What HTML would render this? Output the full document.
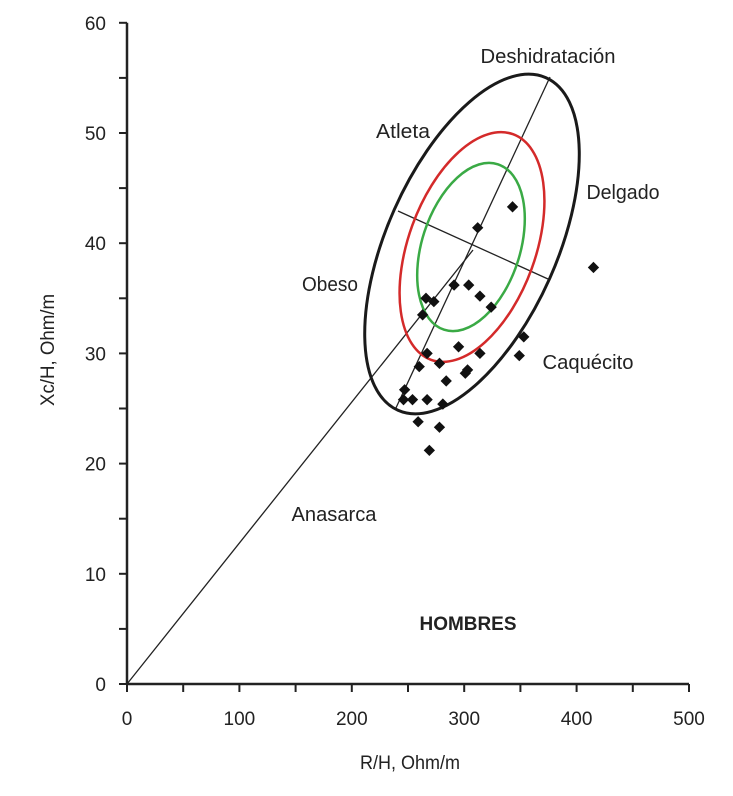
<!DOCTYPE html>
<html><head><meta charset="utf-8"><style>
body{margin:0;background:#fff}
svg text{font-family:"Liberation Sans",sans-serif;fill:#222}
</style></head><body>
<svg id="c" width="733" height="791"></svg>
<script>
const xTicks=[0,100,200,300,400,500];
const yTicks=[0,10,20,30,40,50,60];
const rVals=[343,312,415,291,304,314,324,266,273,263,353,349,295,314,267,278,260,303,301,284,247,246,254,267,281,259,278,269];
const xcVals=[43.3,41.4,37.8,36.2,36.2,35.2,34.2,35.0,34.7,33.5,31.5,29.8,30.6,30.0,30.0,29.1,28.8,28.5,28.2,27.5,26.7,25.8,25.8,25.8,25.4,23.8,23.3,21.2];
const NS="http://www.w3.org/2000/svg";
const svg=document.getElementById('c');
const X=v=>127+v*1.124;
const Y=v=>684-v*11.02;
function mk(t,a,txt){const e=document.createElementNS(NS,t);for(const k in a)e.setAttribute(k,a[k]);if(txt!==undefined)e.textContent=txt;svg.appendChild(e);return e;}
let e;
e=mk('line',{x1:X(0),y1:Y(0),x2:X(500),y2:Y(0),stroke:'#222','stroke-width':2.5});


e=mk('line',{x1:X(0),y1:Y(0),x2:X(0),y2:Y(60),stroke:'#222','stroke-width':2.5});


for(let v=0;v<=500;v+=50){e=mk('line',{x1:X(v),y1:Y(0),x2:X(v),y2:Y(0)+8,stroke:'#222','stroke-width':2});

}
for(let v=0;v<=60;v+=5){e=mk('line',{x1:X(0)-8,y1:Y(v),x2:X(0),y2:Y(v),stroke:'#222','stroke-width':2});

}
xTicks.forEach(v=>{e=mk('text',{x:X(v),y:725,'text-anchor':'middle','font-size':19},v);

});
yTicks.forEach(v=>{e=mk('text',{x:106,y:Y(v)+7,'text-anchor':'end','font-size':19},v);

});
// reference lines
e=mk('line',{x1:X(0),y1:Y(0),x2:473,y2:250,stroke:'#222','stroke-width':1.3});


e=mk('line',{x1:395,y1:410,x2:550,y2:77,stroke:'#222','stroke-width':1.3});


e=mk('line',{x1:398,y1:211,x2:548,y2:279,stroke:'#222','stroke-width':1.3});


// ellipses
const ells=[['#1a1a1a',472,244,85,182,24,'tolerance-ellipse-95'],['#d42a2a',472,247,63.5,120,20,'tolerance-ellipse-75'],['#3aaa45',471,247,49,87,18,'tolerance-ellipse-50']];
ells.forEach(p=>{e=mk('ellipse',{cx:p[1],cy:p[2],rx:p[3],ry:p[4],transform:`rotate(${p[5]} ${p[1]} ${p[2]})`,fill:'none',stroke:p[0],'stroke-width':p[0]=='#1a1a1a'?3:2.5});

});
// points
rVals.forEach((r,i)=>{const cx=X(r),cy=Y(xcVals[i]);
e=mk('rect',{x:cx-4,y:cy-4,width:8,height:8,fill:'#111',transform:`rotate(45 ${cx} ${cy})`});

});
const labels=[['Deshidratación',548,63,135,'region-label-deshidratacion'],['Atleta',403,138,54,'region-label-atleta'],['Delgado',623,199,73,'region-label-delgado'],['Obeso',330,291,56,'region-label-obeso'],['Caquécito',588,369,91,'region-label-caquecito'],['Anasarca',334,521,85,'region-label-anasarca']];
labels.forEach(l=>{e=mk('text',{x:l[1],y:l[2],'text-anchor':'middle','font-size':20,textLength:l[3],lengthAdjust:'spacingAndGlyphs'},l[0]);

});
e=mk('text',{x:468,y:630,'text-anchor':'middle','font-size':19,'font-weight':'bold',textLength:97,lengthAdjust:'spacingAndGlyphs'},'HOMBRES');


e=mk('text',{x:410,y:769,'text-anchor':'middle','font-size':19,textLength:100,lengthAdjust:'spacingAndGlyphs'},'R/H, Ohm/m');


e=mk('text',{x:54,y:350,'text-anchor':'middle','font-size':19,textLength:112,lengthAdjust:'spacingAndGlyphs',transform:'rotate(-90 54 350)'},'Xc/H, Ohm/m');


</script>
</body></html>
